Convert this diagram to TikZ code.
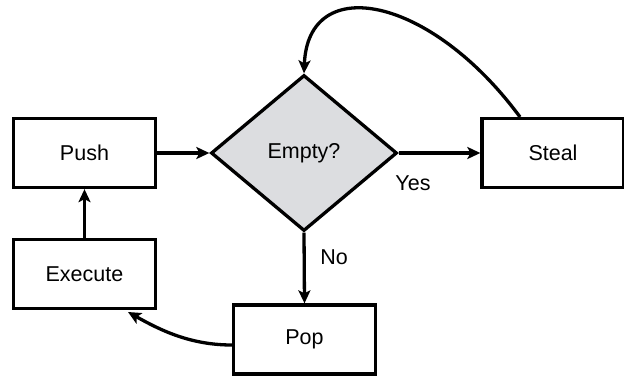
\documentclass[tikz,border=0pt]{standalone}
\usepackage{fontspec}
\setmainfont{Liberation Sans}
\usetikzlibrary{shapes.geometric,arrows.meta}
\definecolor{dfill}{RGB}{220,221,224}
\begin{document}
\begin{tikzpicture}[x=1pt,y=-1pt,
  every node/.style={font=\fontsize{21.5}{25}\selectfont},
  box/.style={draw,line width=3.3pt,minimum width=142pt,minimum height=69pt,inner sep=0pt},
  dec/.style={draw,line width=3.3pt,diamond,fill=dfill,minimum width=186pt,minimum height=156pt,inner sep=0pt},
  conn/.style={line width=3.3pt,-{Stealth[length=13pt,width=12pt,inset=3pt]}}]
\useasboundingbox (0,0) rectangle (624,378);
\node[box] (push) at (84.5,153) {Push};
\node[box] (exec) at (84.5,274) {Execute};
\node[dec] (empty) at (304,153) {Empty?};
\node[box] (steal) at (553,153) {Steal};
\node[box] (pop) at (304.5,339.5) {Pop};
\coordinate (stealtop) at (520,117);
\coordinate (execbr) at (128,312);
\draw[conn] (stealtop) .. controls (430,-5) and (308,-28) .. (empty.north);
\draw[conn] (push.east) -- (empty.west);
\draw[conn] (empty.east) -- (steal.west);
\draw[conn] (empty.south) -- (pop.north);
\draw[conn] (exec.north) -- (push.south);
\draw[conn] (pop.west |- 0,345) .. controls (190,345) and (160,330) .. (execbr);
\node at (413,183) {Yes};
\node at (334,257) {No};
\end{tikzpicture}
\end{document}
